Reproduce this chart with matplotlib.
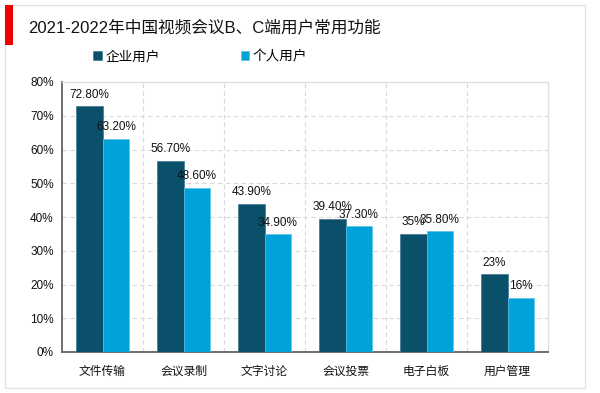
import matplotlib
matplotlib.use("Agg")
import matplotlib.pyplot as plt
import matplotlib.patches as patches
import numpy as np

plt.rcParams['font.family'] = ['Liberation Sans', 'Noto Sans CJK SC', 'DejaVu Sans']

# data
categories = ["文件传输", "会议录制", "文字讨论", "会议投票", "电子白板", "用户管理"]
enterprise = [72.8, 56.7, 43.9, 39.4, 35.0, 23.0]
personal = [63.2, 48.6, 34.9, 37.3, 35.8, 16.0]
enterprise_labels = ["72.80%", "56.70%", "43.90%", "39.40%", "35%", "23%"]
personal_labels = ["63.20%", "48.60%", "34.90%", "37.30%", "35.80%", "16%"]
series_names = ["企业用户", "个人用户"]
title = "2021-2022年中国视频会议B、C端用户常用功能"

DARK = "#0B506B"
LIGHT = "#00A2DA"

fig = plt.figure(figsize=(6.0, 3.93), dpi=100)
fig.patch.set_facecolor("white")

# outer frame and red accent
fig.add_artist(patches.Rectangle((5 / 600, 1 - 388 / 393), 580 / 600, 383 / 393,
                                 transform=fig.transFigure, fill=False,
                                 edgecolor="#E3E3E3", lw=1.0))
fig.add_artist(patches.Rectangle((5 / 600, 1 - 45 / 393), 8 / 600, 40 / 393,
                                 transform=fig.transFigure, color="#F20000", lw=0))
fig.text(28 / 600, 1 - 27 / 393, title, fontsize=12, va="center", ha="left",
         color="#111111")

ax = fig.add_axes([62 / 600, 1 - 352 / 393, 486 / 600, 270 / 393])

x = np.arange(len(categories))
w = 0.33
b1 = ax.bar(x - w / 2, enterprise, w, color=DARK, edgecolor="#3E7891", lw=0.5,
            label=series_names[0], zorder=3)
b2 = ax.bar(x + w / 2, personal, w, color=LIGHT, edgecolor="#5CC3E8", lw=0.5,
            label=series_names[1], zorder=3)

# value labels
for bars, labels in ((b1, enterprise_labels), (b2, personal_labels)):
    for rect, lab in zip(bars, labels):
        ax.annotate(lab, (rect.get_x() + rect.get_width() / 2, rect.get_height()),
                    xytext=(0, 4), textcoords="offset points", ha="center",
                    va="bottom", fontsize=8.5, color="#111111", zorder=5)

ax.set_xlim(-0.5, len(categories) - 0.5)
ax.set_ylim(0, 80)
ax.set_yticks(np.arange(0, 81, 10))
ax.set_yticklabels([f"{v}%" for v in range(0, 81, 10)])
ax.set_xticks(x)
ax.set_xticklabels(categories)
ax.tick_params(axis="both", length=0, labelsize=8.5, colors="#111111")
ax.tick_params(axis="x", pad=10)
ax.tick_params(axis="y", pad=6)

ax.yaxis.grid(True, color="#D9D9D9", ls=(0, (4, 3)), lw=0.8, zorder=0)
for xb in np.arange(0.5, len(categories) - 0.5, 1):
    ax.axvline(xb, color="#D9D9D9", ls=(0, (4, 3)), lw=0.8, zorder=0)

for s in ["top", "right"]:
    ax.spines[s].set_color("#E0E0E0")
    ax.spines[s].set_linewidth(1.0)
for s in ["left", "bottom"]:
    ax.spines[s].set_color("#6E6E6E")
    ax.spines[s].set_linewidth(1.4)

fig.legend(handles=[b1, b2], labels=series_names, loc="center left",
           bbox_to_anchor=(88 / 600, 1 - 56 / 393), ncol=2, frameon=False,
           fontsize=9.8, handlelength=0.6, handleheight=0.6, handletextpad=0.3,
           columnspacing=5.9, borderaxespad=0)

fig.savefig("out.png", dpi=100)
